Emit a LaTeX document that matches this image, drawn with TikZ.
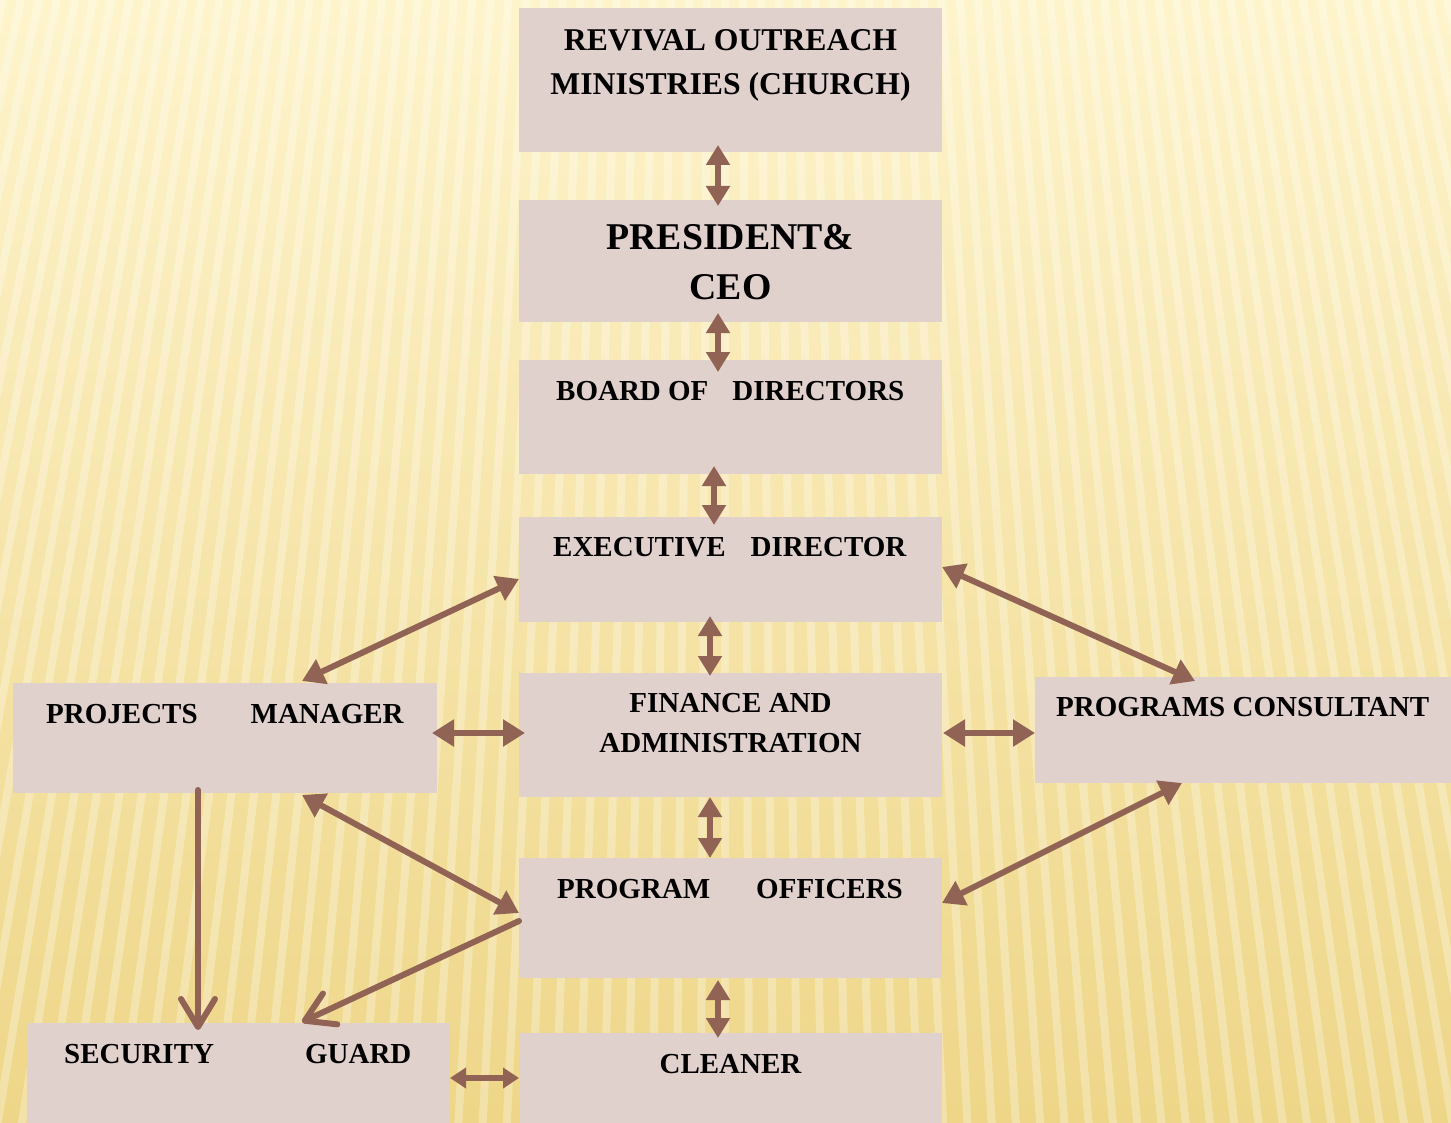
\documentclass[tikz,border=0pt]{standalone}
\usepackage{fontspec}
\setmainfont{Liberation Serif}
\usetikzlibrary{arrows.meta,calc}
\definecolor{boxc}{HTML}{E0D1CD}
\definecolor{arrc}{HTML}{916355}
\definecolor{bgtop}{HTML}{FEF4CC}
\definecolor{bgbot}{HTML}{EED688}
\begin{document}
\begin{tikzpicture}[x=1pt,y=-1pt,
  box/.style={rectangle, fill=boxc, draw=none, inner sep=0pt, outer sep=0pt},
  lbl/.style={inner sep=0pt, font=\bfseries\fontsize{29}{40}\selectfont},
  dbl/.style={draw=arrc, line width=6pt,
    {Triangle[length=20pt,width=23pt]}-{Triangle[length=20pt,width=23pt]}},
  dbld/.style={draw=arrc, line width=6pt,
    {Triangle[length=22pt,width=26pt]}-{Triangle[length=22pt,width=26pt]}},
  dbls/.style={draw=arrc, line width=6pt,
    {Triangle[length=16pt,width=20pt]}-{Triangle[length=16pt,width=20pt]}},
  one/.style={draw=arrc, line width=6pt, line cap=round,
    -{Straight Barb[length=28pt,width=34pt,line cap=round,line join=round]}}]
% background
\useasboundingbox (0,0) rectangle (1451,1123);
\shade[top color=bgtop, bottom color=bgbot] (0,0) rectangle (1451,1123);
\begin{scope}
  \clip (0,0) rectangle (1451,1123);
  \foreach \i in {-50,...,50} {
    \draw[white, opacity=0.28, line width=8pt] ({725+\i*18},-10) -- ({725+\i*18*1.35},1133);
  }
\end{scope}
% boxes
\node[box, minimum width=423pt, minimum height=144pt] (rev)   at (730.5,80)   {};
\node[box, minimum width=423pt, minimum height=122pt] (pres)  at (730.5,261)  {};
\node[box, minimum width=423pt, minimum height=114pt] (board) at (730.5,417)  {};
\node[box, minimum width=423pt, minimum height=105pt] (exec)  at (730.5,569.5){};
\node[box, minimum width=423pt, minimum height=124pt] (fin)   at (730.5,735)  {};
\node[box, minimum width=423pt, minimum height=120pt] (prog)  at (730.5,918)  {};
\node[box, minimum width=423pt, minimum height=90pt]  (clean) at (730.5,1078) {};
\node[box, minimum width=424pt, minimum height=110pt] (pm)    at (225,738)    {};
\node[box, minimum width=416pt, minimum height=106pt] (pc)    at (1243,730)   {};
\node[box, minimum width=423pt, minimum height=100pt] (sg)    at (238.5,1073) {};
% labels
\node[lbl, anchor=base, font=\bfseries\fontsize{31.7}{44}\selectfont] (t1a) at (730.5,50.5) {REVIVAL OUTREACH};
\node[lbl, anchor=base, font=\bfseries\fontsize{31.7}{44}\selectfont] (t1b) at (730.5,94.5) {MINISTRIES (CHURCH)};
\node[lbl, anchor=base, font=\bfseries\fontsize{37.8}{50}\selectfont] (t2a) at (730.5,249.5) {PRESIDENT\&};
\node[lbl, anchor=base, font=\bfseries\fontsize{37.8}{50}\selectfont] (t2b) at (730.5,299.5) {CEO};
\node[lbl, anchor=base west] (t3) at (556,400.6) {BOARD OF\hspace{24pt}DIRECTORS};
\node[lbl, anchor=base west] (t4) at (553,556.6) {EXECUTIVE\hspace{25pt}DIRECTOR};
\node[lbl, anchor=base] (t5a) at (730.5,712.6) {FINANCE AND};
\node[lbl, anchor=base] (t5b) at (730.5,752.6) {ADMINISTRATION};
\node[lbl, anchor=base west] (t6) at (557,898.6) {PROGRAM\hspace{46pt}OFFICERS};
\node[lbl, anchor=base] (t7) at (730.5,1073.6) {CLEANER};
\node[lbl, anchor=base west] (t8) at (46,723.6) {PROJECTS\hspace{53pt}MANAGER};
\node[lbl, anchor=base west] (t9) at (1056,716.6) {PROGRAMS CONSULTANT};
\node[lbl, anchor=base west] (t10) at (64,1063.6) {SECURITY\hspace{91pt}GUARD};
% vertical connectors
\draw[dbl] ($(rev.south)+(-12.5,-7)$) -- ($(pres.north)+(-12.5,6)$);
\draw[dbl] ($(pres.south)+(-12.5,-9)$) -- ($(board.north)+(-12.5,12)$);
\draw[dbl] ($(board.south)+(-16.5,-8)$) -- ($(exec.north)+(-16.5,8)$);
\draw[dbl] ($(exec.south)+(-20.5,-6)$) -- ($(fin.north)+(-20.5,3)$);
\draw[dbl] ($(fin.south)+(-20.5,0)$) -- ($(prog.north)+(-20.5,0)$);
\draw[dbl] ($(prog.south)+(-12.5,2)$) -- ($(clean.north)+(-12.5,5)$);
% horizontal connectors
\draw[dbld] ($(pm.east)+(-5,-5)$) -- ($(fin.west)+(6,-2)$);
\draw[dbld] ($(fin.east)+(1,-2)$) -- ($(pc.west)+(0,3)$);
\draw[dbls] ($(sg.east)+(0,5)$) -- (clean.west);
% diagonal connectors
\draw[dbld] ($(exec.west)+(0,9.5)$) -- ($(pm.north)+(77,-2)$);
\draw[dbld] ($(exec.east)+(0,-2.5)$) -- ($(pc.north)+(-48,4)$);
\draw[dbld] ($(pm.south)+(77,2)$) -- ($(prog.west)+(0,-5)$);
\draw[dbld] ($(pc.south)+(-61,0)$) -- ($(prog.east)+(0,-15)$);
% single arrows
\draw[one] ($(pm.south)+(-27,-3)$) -- ($(sg.north)+(-40.5,7)$);
\draw[one] ($(prog.west)+(0,3)$) -- ($(sg.north)+(63.5,-1)$);
\end{tikzpicture}
\end{document}
